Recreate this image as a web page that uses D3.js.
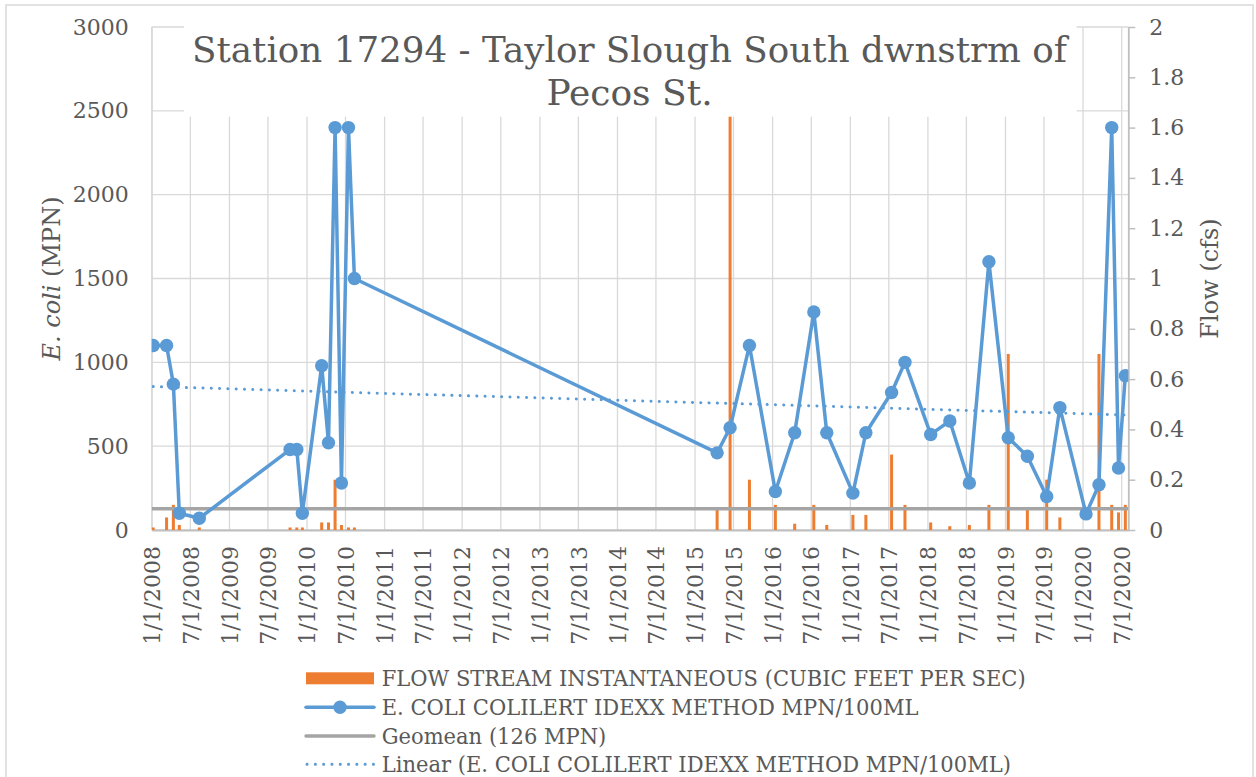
<!DOCTYPE html>
<html>
<head>
<meta charset="utf-8">
<title>Station 17294 - Taylor Slough South</title>
<style>
  body { margin: 0; background: #fff; }
  svg text { font-family: 'DejaVu Serif', serif; fill: #595959; }
</style>
<script src="https://d3js.org/d3.v7.min.js"></script>
</head>
<body>
<div id="chart"></div>
<script>
// ******* Data *******
const sampleDates = [
  "2008-01-08", "2008-03-11", "2008-04-12", "2008-05-10", "2008-08-12",
  "2009-10-13", "2009-11-14", "2009-12-10", "2010-03-11", "2010-04-12",
  "2010-05-13", "2010-06-12", "2010-07-15", "2010-08-12", "2015-04-15",
  "2015-06-15", "2015-09-14", "2016-01-14", "2016-04-14", "2016-07-13",
  "2016-09-12", "2017-01-13", "2017-03-15", "2017-07-14", "2017-09-15",
  "2018-01-14", "2018-04-14", "2018-07-15", "2018-10-15", "2019-01-14",
  "2019-04-14", "2019-07-14", "2019-09-14", "2020-01-15", "2020-03-16",
  "2020-05-15", "2020-06-16", "2020-07-18"
];
// E. coli, MPN/100mL (left axis)
const ecoli = [
  1100, 1100, 870, 100, 70,
  480, 480, 100, 980, 520,
  2400, 280, 2400, 1500, 460,
  610, 1100, 230, 580, 1300,
  580, 220, 580, 820, 1000,
  570, 650, 280, 1600, 550,
  440, 200, 730, 96, 270,
  2400, 370, 920
];
// Flow, cfs (right axis); the 6/2015 value runs off the top of the chart
const flow = [
  0.01, 0.05, 0.1, 0.02, 0.01,
  0.01, 0.01, 0.01, 0.03, 0.03,
  0.2, 0.02, 0.01, 0.01, 0.08,
  2.5, 0.2, 0.1, 0.025, 0.1,
  0.02, 0.06, 0.06, 0.3, 0.1,
  0.03, 0.015, 0.02, 0.1, 0.7,
  0.08, 0.2, 0.05, 0, 0.7,
  0.1, 0.07, 0.1
];
const geomean = 126;

const xTickLabels = [
  "1/1/2008", "7/1/2008", "1/1/2009", "7/1/2009", "1/1/2010", "7/1/2010",
  "1/1/2011", "7/1/2011", "1/1/2012", "7/1/2012", "1/1/2013", "7/1/2013",
  "1/1/2014", "7/1/2014", "1/1/2015", "7/1/2015", "1/1/2016", "7/1/2016",
  "1/1/2017", "7/1/2017", "1/1/2018", "7/1/2018", "1/1/2019", "7/1/2019",
  "1/1/2020", "7/1/2020"
];
const leftTicks = [0, 500, 1000, 1500, 2000, 2500, 3000];
const rightTicks = [0, 0.2, 0.4, 0.6, 0.8, 1, 1.2, 1.4, 1.6, 1.8, 2];

const legendLabels = [
  "FLOW STREAM INSTANTANEOUS (CUBIC FEET PER SEC)",
  "E. COLI COLILERT IDEXX METHOD MPN/100ML",
  "Geomean (126 MPN)",
  "Linear (E. COLI COLILERT IDEXX METHOD MPN/100ML)"
];

// ******* Constants *******
const width = 1256, height = 777;
const plot = {left: 151.7, right: 1128.3, top: 27, bottom: 530};
const blue = "#5b9bd5", orange = "#ed7d31", gray = "#a5a5a5",
      grid = "#d9d9d9", axisColor = "#bfbfbf";

const parseDay = d3.timeParse("%Y-%m-%d");
const parseTick = d3.timeParse("%m/%d/%Y");
const dates = sampleDates.map(parseDay);
const xTicks = xTickLabels.map(parseTick);

// ******* Scales *******
const x = d3.scaleTime()
    .domain([new Date(2008, 0, 1), new Date(2020, 7, 1)])
    .range([plot.left, plot.right]);
const yL = d3.scaleLinear().domain([0, 3000]).range([plot.bottom, plot.top]);
const yR = d3.scaleLinear().domain([0, 2]).range([plot.bottom, plot.top]);

// ******* SVG *******
const svg = d3.select("#chart").append("svg")
    .attr("width", width)
    .attr("height", height);

svg.append("rect")
    .attr("x", 6).attr("y", 5)
    .attr("width", 1247).attr("height", 790)
    .attr("fill", "#fff")
    .attr("stroke", grid)
    .attr("stroke-width", 1.5);

svg.append("clipPath").attr("id", "plotclip")
  .append("rect")
    .attr("x", plot.left).attr("y", plot.top)
    .attr("width", plot.right - plot.left)
    .attr("height", plot.bottom - plot.top);

// gridlines
svg.append("g").selectAll("line")
    .data(leftTicks)
    .join("line")
    .attr("x1", plot.left).attr("x2", plot.right)
    .attr("y1", d => yL(d)).attr("y2", d => yL(d))
    .attr("stroke", grid).attr("stroke-width", 1.3);

svg.append("g").selectAll("line")
    .data(xTicks)
    .join("line")
    .attr("x1", d => x(d)).attr("x2", d => x(d))
    .attr("y1", plot.top).attr("y2", plot.bottom)
    .attr("stroke", grid).attr("stroke-width", 1.3);

// ******* Axes *******
const gLeft = svg.append("g")
    .attr("transform", `translate(${plot.left},0)`)
    .call(d3.axisLeft(yL).tickValues(leftTicks).tickSize(0).tickPadding(23)
      .tickFormat(d3.format("d")));
gLeft.select(".domain").attr("stroke", grid).attr("stroke-width", 1.3);

const gRight = svg.append("g")
    .attr("transform", `translate(${plot.right},0)`)
    .call(d3.axisRight(yR).tickValues(rightTicks)
      .tickSizeInner(7).tickSizeOuter(0).tickPadding(14)
      .tickFormat(d => String(+d.toFixed(1))));
gRight.select(".domain").attr("stroke", axisColor).attr("stroke-width", 1.8);
gRight.selectAll(".tick line").attr("stroke", axisColor).attr("stroke-width", 1.5);

const gBottom = svg.append("g")
    .attr("transform", `translate(0,${plot.bottom})`)
    .call(d3.axisBottom(x).tickValues(xTicks).tickSize(0)
      .tickFormat((d, i) => xTickLabels[i]));
gBottom.select(".domain").attr("stroke", axisColor).attr("stroke-width", 2);
gBottom.selectAll(".tick text")
    .attr("y", 0).attr("x", -16).attr("dy", ".35em")
    .attr("transform", "rotate(-90)")
    .style("text-anchor", "end");

svg.selectAll(".tick text")
    .attr("font-family", null)
    .attr("fill", null)
    .style("font-size", "22px");

// ******* Series *******
const marks = svg.append("g").attr("clip-path", "url(#plotclip)");

// flow columns
marks.selectAll("rect.flow")
    .data(flow.map((v, i) => ({date: dates[i], v: v})).filter(d => d.v > 0))
    .join("rect")
    .attr("class", "flow")
    .attr("x", d => x(d.date) - 1.5)
    .attr("width", 3)
    .attr("y", d => yR(Math.min(d.v, 2)))
    .attr("height", d => plot.bottom - yR(Math.min(d.v, 2)))
    .attr("fill", orange);

// geomean reference line
marks.append("line")
    .attr("x1", plot.left).attr("x2", plot.right)
    .attr("y1", yL(geomean)).attr("y2", yL(geomean))
    .attr("stroke", gray).attr("stroke-width", 3.5);

// E. coli line + markers
const pts = ecoli.map((v, i) => ({date: dates[i], v: v}));
marks.append("path")
    .datum(pts)
    .attr("fill", "none")
    .attr("stroke", blue)
    .attr("stroke-width", 3.5)
    .attr("stroke-linejoin", "round")
    .attr("d", d3.line().x(d => x(d.date)).y(d => yL(d.v)));

marks.selectAll("circle")
    .data(pts)
    .join("circle")
    .attr("cx", d => x(d.date))
    .attr("cy", d => yL(d.v))
    .attr("r", 6.7)
    .attr("fill", blue);

// linear trend (least squares over date)
const tx = dates.map(d => +d);
const mx = d3.mean(tx), my = d3.mean(ecoli);
const slope = d3.sum(tx, (t, i) => (t - mx) * (ecoli[i] - my)) /
              d3.sum(tx, t => (t - mx) * (t - mx));
const trend = t => my + slope * (+t - mx);
const t0 = dates[0], t1 = dates[dates.length - 1];
marks.append("line")
    .attr("x1", x(t0)).attr("y1", yL(trend(t0)))
    .attr("x2", x(t1)).attr("y2", yL(trend(t1)))
    .attr("stroke", blue)
    .attr("stroke-width", 3)
    .attr("stroke-linecap", "round")
    .attr("stroke-dasharray", "0.1 8.2");

// ******* Title (sits on a white box over the top of the plot) *******
svg.append("rect")
    .attr("x", 184).attr("y", 20)
    .attr("width", 1076.7 - 184).attr("height", 116.7 - 20)
    .attr("fill", "#fff");

const titleLines = ["Station 17294 - Taylor Slough South dwnstrm of", "Pecos St."];
const title = svg.append("g").selectAll("text")
    .data(titleLines)
    .join("text")
    .attr("x", 629.5)
    .attr("y", (d, i) => 61.7 + i * 43.3)
    .attr("text-anchor", "middle")
    .style("font-size", "36px")
    .text(d => d);
// squeeze the long line to the width it has in the original
title.each(function(d, i) {
  if (i === 0 && this.getComputedTextLength() > 875) {
    d3.select(this).attr("textLength", 875).attr("lengthAdjust", "spacingAndGlyphs");
  }
});

// ******* Axis titles *******
const yTitle = svg.append("text")
    .attr("transform", "translate(60,278.5) rotate(-90)")
    .attr("text-anchor", "middle")
    .style("font-size", "24px");
yTitle.append("tspan").style("font-style", "italic").text("E. coli");
yTitle.append("tspan").text(" (MPN)");

svg.append("text")
    .attr("transform", "translate(1218,278.5) rotate(-90)")
    .attr("text-anchor", "middle")
    .style("font-size", "24px")
    .text("Flow (cfs)");

// ******* Legend *******
const legendY = [678.3, 707.3, 736, 764.3];
const legend = svg.append("g");
const symX0 = 306, symX1 = 374;

legend.append("rect")
    .attr("x", symX0).attr("y", legendY[0] - 6)
    .attr("width", symX1 - symX0).attr("height", 12)
    .attr("fill", orange);
legend.append("line")
    .attr("x1", symX0).attr("x2", symX1)
    .attr("y1", legendY[1]).attr("y2", legendY[1])
    .attr("stroke", blue).attr("stroke-width", 3.5).attr("stroke-linecap", "round");
legend.append("circle")
    .attr("cx", (symX0 + symX1) / 2).attr("cy", legendY[1])
    .attr("r", 6.7).attr("fill", blue);
legend.append("line")
    .attr("x1", symX0).attr("x2", symX1)
    .attr("y1", legendY[2]).attr("y2", legendY[2])
    .attr("stroke", gray).attr("stroke-width", 3.5).attr("stroke-linecap", "round");
legend.append("line")
    .attr("x1", symX0 + 1).attr("x2", symX1)
    .attr("y1", legendY[3]).attr("y2", legendY[3])
    .attr("stroke", blue).attr("stroke-width", 3)
    .attr("stroke-linecap", "round").attr("stroke-dasharray", "0.1 8.2");

const legendText = legend.selectAll("text")
    .data(legendLabels)
    .join("text")
    .attr("x", 381.7)
    .attr("y", (d, i) => legendY[i])
    .attr("dy", ".36em")
    .style("font-size", "22px")
    .text(d => d);

// the legend type in the original is condensed: scale all rows by the same factor
const legendNat = [];
legendText.each(function() { legendNat.push(this.getComputedTextLength()); });
const squeeze = Math.min(1, 644 / legendNat[0]);
legendText.each(function(d, i) {
  d3.select(this).attr("textLength", legendNat[i] * squeeze)
      .attr("lengthAdjust", "spacingAndGlyphs");
});
</script>
</body>
</html>
